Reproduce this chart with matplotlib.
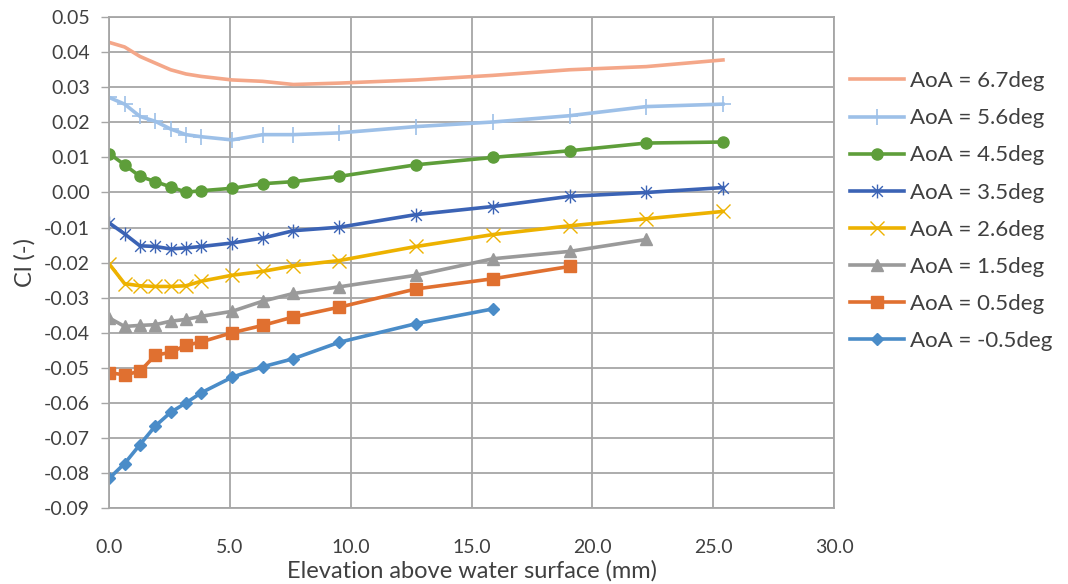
import matplotlib
matplotlib.use("Agg")
import matplotlib.pyplot as plt
from matplotlib.path import Path
from matplotlib.ticker import FormatStrFormatter, MultipleLocator

plt.rcParams['font.family'] = ['Lato', 'DejaVu Sans']

# elevation above water surface (mm)
elev = [0.0, 0.635, 1.27, 1.905, 2.54, 3.175, 3.81, 5.08, 6.35, 7.62, 9.525,
        12.7, 15.875, 19.05, 22.225, 25.4]

labels = ["AoA = 6.7deg", "AoA = 5.6deg", "AoA = 4.5deg", "AoA = 3.5deg",
          "AoA = 2.6deg", "AoA = 1.5deg", "AoA = 0.5deg", "AoA = -0.5deg"]

cl_67 = [0.0428, 0.0415, 0.0388, 0.0369, 0.0350, 0.0338, 0.0331, 0.0321, 0.0317,
         0.0308, 0.0312, 0.0321, 0.0334, 0.0350, 0.0359, 0.0378]
cl_56 = [0.0271, 0.0252, 0.0217, 0.0203, 0.0181, 0.0165, 0.0159, 0.0150, 0.0165,
         0.0165, 0.0170, 0.0188, 0.0201, 0.0219, 0.0245, 0.0252]
cl_45 = [0.0111, 0.0079, 0.0046, 0.0031, 0.0016, 0.0001, 0.0005, 0.0012, 0.0025,
         0.0031, 0.0046, 0.0079, 0.0100, 0.0119, 0.0141, 0.0144]
cl_35 = [-0.0087, -0.0118, -0.0152, -0.0154, -0.0161, -0.0158, -0.0154, -0.0144,
         -0.0130, -0.0109, -0.0099, -0.0063, -0.0040, -0.0011, 0.0000, 0.0014]
cl_26 = [-0.0204, -0.0260, -0.0266, -0.0268, -0.0268, -0.0266, -0.0253, -0.0236,
         -0.0225, -0.0209, -0.0194, -0.0154, -0.0120, -0.0095, -0.0075, -0.0054]
cl_15 = [-0.0358, -0.0382, -0.0379, -0.0377, -0.0367, -0.0362, -0.0353, -0.0339,
         -0.0310, -0.0288, -0.0269, -0.0236, -0.0189, -0.0168, -0.0134]
cl_05 = [-0.0514, -0.0520, -0.0510, -0.0464, -0.0456, -0.0436, -0.0426, -0.0400,
         -0.0379, -0.0355, -0.0327, -0.0275, -0.0246, -0.0211]
cl_m05 = [-0.0815, -0.0773, -0.0719, -0.0666, -0.0627, -0.0600, -0.0571, -0.0527,
          -0.0497, -0.0474, -0.0427, -0.0374, -0.0332]

series = [cl_67, cl_56, cl_45, cl_35, cl_26, cl_15, cl_05, cl_m05]
colors = ['#F4A789', '#9DC0E8', '#5E9E3A', '#3B63B5',
          '#EDB200', '#9A9A9A', '#E07030', '#4A8CC8']

# excel style asterisk: x plus a vertical bar
star = Path([(-1, -1), (1, 1), (-1, 1), (1, -1), (0, -1.3), (0, 1.3)],
            [Path.MOVETO, Path.LINETO, Path.MOVETO, Path.LINETO,
             Path.MOVETO, Path.LINETO])

styles = [
    dict(marker=None),
    dict(marker='+', markersize=11, markeredgewidth=1.2),
    dict(marker='o', markersize=8),
    dict(marker=star, markersize=10, markeredgewidth=1.0),
    dict(marker='x', markersize=10, markeredgewidth=1.0),
    dict(marker='^', markersize=9),
    dict(marker='s', markersize=8),
    dict(marker='D', markersize=6.5),
]

fig = plt.figure(figsize=(10.68, 5.84), dpi=100)
ax = fig.add_axes([0.1023, 0.130, 0.6787, 0.8406])

for vals, lab, col, st in zip(series, labels, colors, styles):
    ax.plot(elev[:len(vals)], vals, color=col, lw=2.6, label=lab,
            markerfacecolor=col, markeredgecolor=col, **st)

ax.set_xlim(0, 30)
ax.set_ylim(-0.09, 0.05)
ax.xaxis.set_major_locator(MultipleLocator(5))
ax.yaxis.set_major_locator(MultipleLocator(0.01))
ax.xaxis.set_major_formatter(FormatStrFormatter('%.1f'))
ax.yaxis.set_major_formatter(FormatStrFormatter('%.2f'))

ax.grid(True, color='#A6A6A6', lw=1.3)
ax.set_axisbelow(True)
for sp in ax.spines.values():
    sp.set_color('#A6A6A6')
    sp.set_linewidth(1.3)

ax.tick_params(axis='y', length=6, width=1.0, color='#A6A6A6',
               labelsize=14, labelcolor='#404040', pad=8)
ax.tick_params(axis='x', length=0, labelsize=14, labelcolor='#404040', pad=22)

ax.set_xlabel('Elevation above water surface (mm)', fontsize=17, color='#404040',
              labelpad=3)
ax.set_ylabel('Cl (-)', fontsize=17, color='#404040', labelpad=6)

ax.legend(loc='upper left', bbox_to_anchor=(1.01, 0.908), frameon=False,
          fontsize=16, labelcolor='#404040', handlelength=2.4,
          handletextpad=0.3, labelspacing=0.77, borderaxespad=0)

fig.savefig('out.png', dpi=100)
